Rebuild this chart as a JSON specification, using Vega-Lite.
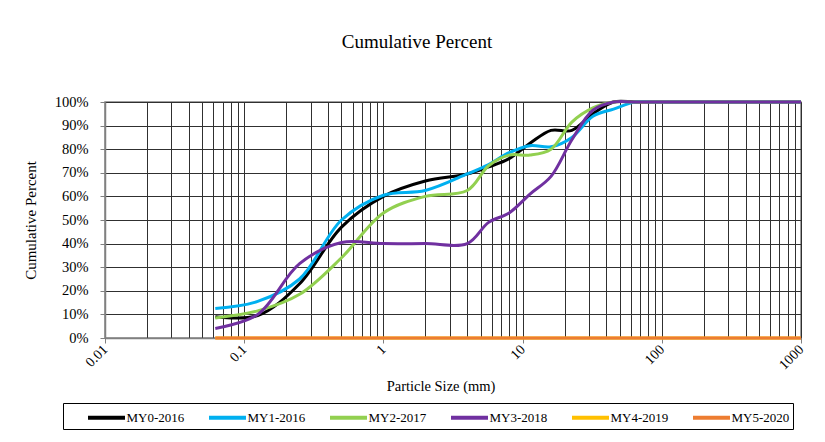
{
  "$schema": "https://vega.github.io/schema/vega-lite/v6.json",
  "width": 696,
  "height": 236,
  "autosize": {"type": "none"},
  "padding": {"left": 105, "top": 102, "right": 24, "bottom": 104},
  "background": "white",
  "title": {"text": "Cumulative Percent", "font": "Liberation Serif", "fontSize": 19, "fontWeight": "normal", "color": "black", "anchor": "middle", "dx": -36, "offset": 42.5},
  "config": {
    "view": {"stroke": "#808080", "strokeWidth": 1.5},
    "font": "Liberation Serif"
  },
  "data": {
    "values": [
      {"size": 0.062, "MY0-2016": 9, "MY1-2016": 12.5, "MY2-2017": 8.5, "MY3-2018": 4, "MY4-2019": 0, "MY5-2020": 0},
      {"size": 0.125, "MY0-2016": 9.5, "MY1-2016": 15.5, "MY2-2017": 11.5, "MY3-2018": 10, "MY4-2019": 0, "MY5-2020": 0},
      {"size": 0.25, "MY0-2016": 23, "MY1-2016": 25, "MY2-2017": 18.5, "MY3-2018": 31.5, "MY4-2019": 0, "MY5-2020": 0},
      {"size": 0.5, "MY0-2016": 47, "MY1-2016": 50, "MY2-2017": 34, "MY3-2018": 40.5, "MY4-2019": 0, "MY5-2020": 0},
      {"size": 1, "MY0-2016": 60, "MY1-2016": 60.5, "MY2-2017": 53, "MY3-2018": 40, "MY4-2019": 0, "MY5-2020": 0},
      {"size": 2, "MY0-2016": 66.5, "MY1-2016": 62.5, "MY2-2017": 60, "MY3-2018": 40, "MY4-2019": 0, "MY5-2020": 0},
      {"size": 4, "MY0-2016": 69.5, "MY1-2016": 69.5, "MY2-2017": 62.5, "MY3-2018": 40, "MY4-2019": 0, "MY5-2020": 0},
      {"size": 5.7, "MY0-2016": 72.5, "MY1-2016": 73.5, "MY2-2017": 73, "MY3-2018": 49, "MY4-2019": 0, "MY5-2020": 0},
      {"size": 8, "MY0-2016": 76, "MY1-2016": 78.5, "MY2-2017": 77.5, "MY3-2018": 53, "MY4-2019": 0, "MY5-2020": 0},
      {"size": 11.3, "MY0-2016": 82.5, "MY1-2016": 81.5, "MY2-2017": 77.5, "MY3-2018": 61, "MY4-2019": 0, "MY5-2020": 0},
      {"size": 16, "MY0-2016": 88, "MY1-2016": 81, "MY2-2017": 80, "MY3-2018": 68.5, "MY4-2019": 0, "MY5-2020": 0},
      {"size": 22.6, "MY0-2016": 88, "MY1-2016": 85, "MY2-2017": 91.5, "MY3-2018": 84, "MY4-2019": 0, "MY5-2020": 0},
      {"size": 32, "MY0-2016": 95, "MY1-2016": 94, "MY2-2017": 97.5, "MY3-2018": 96.5, "MY4-2019": 0, "MY5-2020": 0},
      {"size": 45, "MY0-2016": 100, "MY1-2016": 97, "MY2-2017": 100, "MY3-2018": 100, "MY4-2019": 0, "MY5-2020": 0},
      {"size": 64, "MY0-2016": 100, "MY1-2016": 100, "MY2-2017": 100, "MY3-2018": 100, "MY4-2019": 0, "MY5-2020": 0},
      {"size": 90, "MY0-2016": 100, "MY1-2016": 100, "MY2-2017": 100, "MY3-2018": 100, "MY4-2019": 0, "MY5-2020": 0},
      {"size": 128, "MY0-2016": 100, "MY1-2016": 100, "MY2-2017": 100, "MY3-2018": 100, "MY4-2019": 0, "MY5-2020": 0},
      {"size": 180, "MY0-2016": 100, "MY1-2016": 100, "MY2-2017": 100, "MY3-2018": 100, "MY4-2019": 0, "MY5-2020": 0},
      {"size": 256, "MY0-2016": 100, "MY1-2016": 100, "MY2-2017": 100, "MY3-2018": 100, "MY4-2019": 0, "MY5-2020": 0},
      {"size": 362, "MY0-2016": 100, "MY1-2016": 100, "MY2-2017": 100, "MY3-2018": 100, "MY4-2019": 0, "MY5-2020": 0},
      {"size": 512, "MY0-2016": 100, "MY1-2016": 100, "MY2-2017": 100, "MY3-2018": 100, "MY4-2019": 0, "MY5-2020": 0},
      {"size": 1000, "MY0-2016": 100, "MY1-2016": 100, "MY2-2017": 100, "MY3-2018": 100, "MY4-2019": 0, "MY5-2020": 0}
    ]
  },
  "transform": [
    {"fold": ["MY0-2016", "MY1-2016", "MY2-2017", "MY3-2018", "MY4-2019", "MY5-2020"], "as": ["series", "pct"]}
  ],
  "mark": {"type": "line", "interpolate": "catmull-rom", "strokeWidth": 3, "clip": false},
  "encoding": {
    "x": {
      "field": "size", "type": "quantitative",
      "scale": {"type": "log", "domain": [0.01, 1000], "nice": false},
      "axis": {
        "title": "Particle Size (mm)",
        "titleFont": "Liberation Serif", "titleFontSize": 14.5, "titleFontWeight": "normal", "titleColor": "black",
        "titlePadding": 8, "titleX": 335.5,
        "values": [0.01,0.02,0.03,0.04,0.05,0.06,0.07,0.08,0.09,0.1,0.2,0.3,0.4,0.5,0.6,0.7,0.8,0.9,1,2,3,4,5,6,7,8,9,10,20,30,40,50,60,70,80,90,100,200,300,400,500,600,700,800,900,1000],
        "format": "~g",
        "labelExpr": "indexof([0.01,0.1,1,10,100,1000], datum.value) >= 0 ? datum.label : ''",
        "labelAngle": -45, "labelAlign": "right", "labelBaseline": "middle",
        "labelFont": "Liberation Serif", "labelFontSize": 14, "labelColor": "black",
        "labelPadding": 4, "labelOverlap": false, "labelFlush": false,
        "tickSize": 5, "tickColor": "#808080",
        "tickOpacity": {"condition": {"test": "indexof([0.01,0.1,1,10,100,1000], datum.value) >= 0", "value": 1}, "value": 0},
        "domainColor": "#808080", "domainWidth": 1.5,
        "grid": true, "gridColor": "#303030", "gridWidth": 1, "gridOpacity": 1
      }
    },
    "y": {
      "field": "pct", "type": "quantitative",
      "scale": {"domain": [0, 100], "nice": false},
      "axis": {
        "title": "Cumulative Percent",
        "titleFont": "Liberation Serif", "titleFontSize": 15, "titleFontWeight": "normal", "titleColor": "black",
        "titlePadding": 16,
        "values": [0,10,20,30,40,50,60,70,80,90,100],
        "labelExpr": "datum.value + '%'",
        "labelFont": "Liberation Serif", "labelFontSize": 14.5, "labelColor": "black",
        "labelPadding": 12,
        "tickSize": 5, "tickColor": "#808080",
        "domainColor": "#808080", "domainWidth": 1.5,
        "grid": true, "gridColor": "#303030", "gridWidth": 1, "gridOpacity": 1
      }
    },
    "color": {
      "field": "series", "type": "nominal",
      "scale": {
        "domain": ["MY0-2016", "MY1-2016", "MY2-2017", "MY3-2018", "MY4-2019", "MY5-2020"],
        "range": ["#000000", "#00B0F0", "#92D050", "#7030A0", "#FFC000", "#ED7D31"]
      },
      "legend": {
        "title": null,
        "orient": "none",
        "legendX": -42,
        "legendY": 301,
        "direction": "horizontal",
        "columns": 6,
        "symbolType": "M-2,0H2",
        "symbolSize": 342,
        "symbolStrokeWidth": 4,
        "symbolOffset": 29,
        "labelFont": "Liberation Serif", "labelFontSize": 13, "labelColor": "black",
        "labelOffset": 8.5,
        "columnPadding": 2,
        "padding": 3,
        "strokeColor": "black",
        "fillColor": "white"
      }
    }
  }
}
